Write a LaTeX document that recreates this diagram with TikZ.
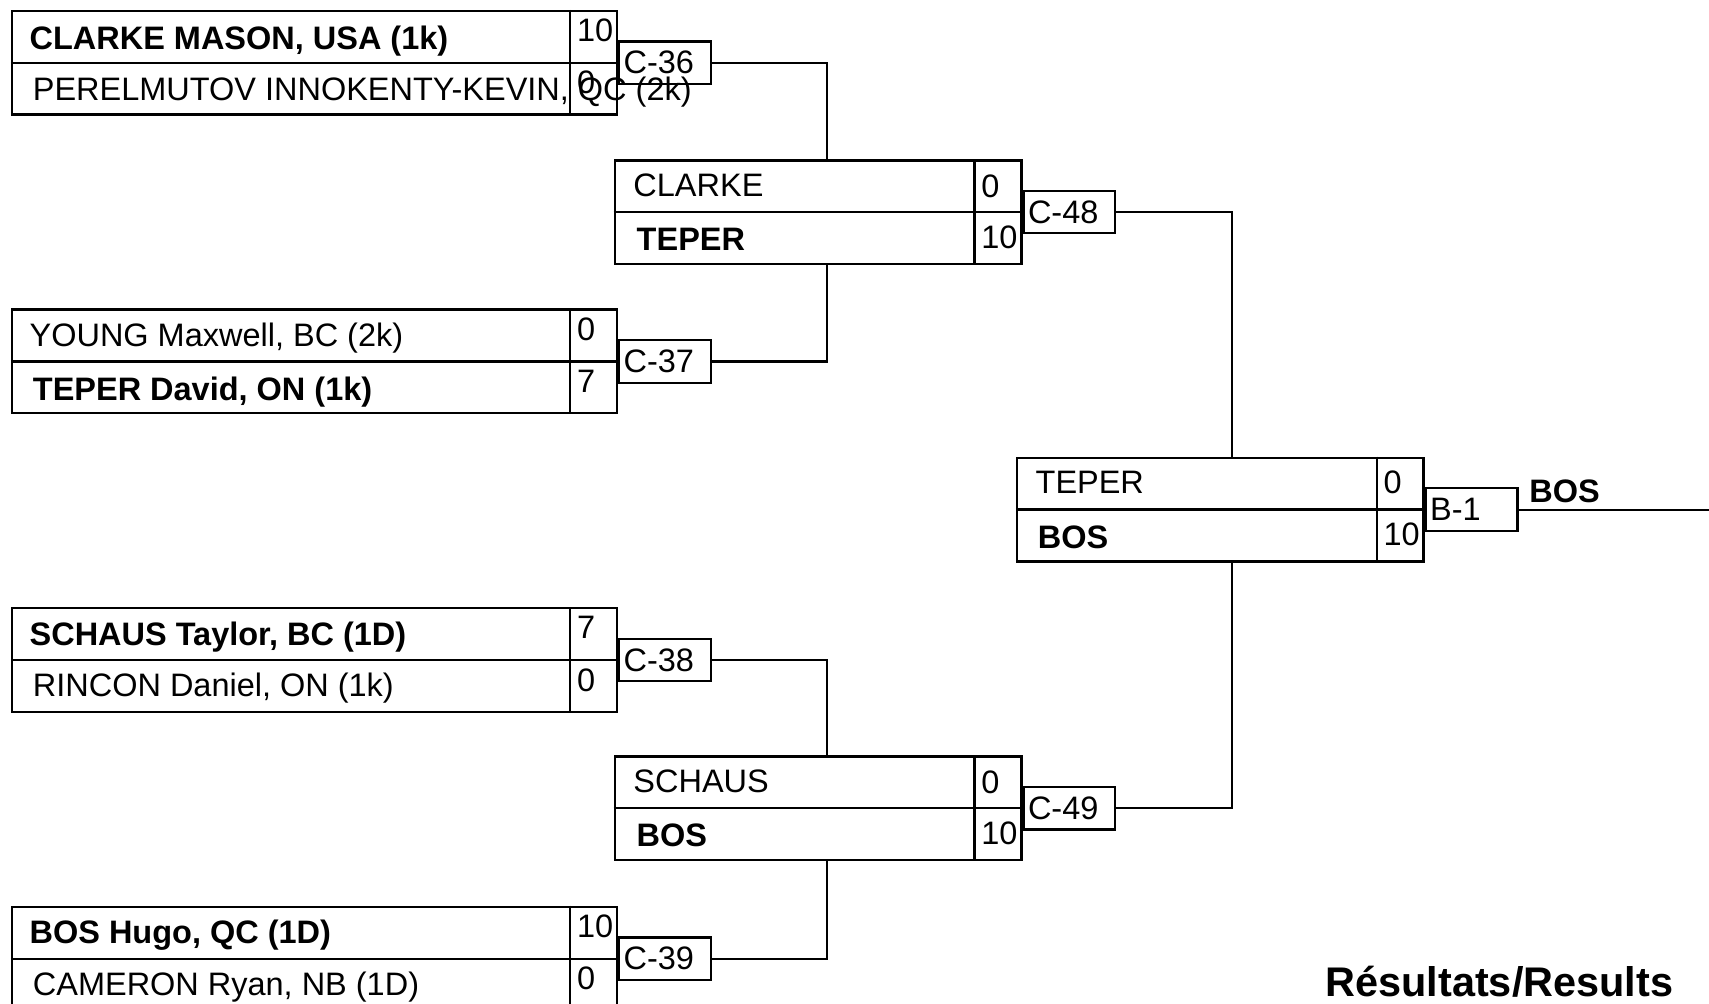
\documentclass[tikz,border=0pt]{standalone}
\usepackage{fontspec}
\setmainfont{Liberation Sans}
\usetikzlibrary{positioning}
\newcommand{\nmfont}{\fontsize{29.8}{34}\selectfont}
\newcommand{\resfont}{\fontsize{38}{42}\selectfont\bfseries}

\begin{document}
\begin{tikzpicture}[x=1pt,y=-1pt,
  match/.style={draw, line width=2.2pt, anchor=north west, minimum height=95pt, inner sep=0pt},
  rnda/.style={match, minimum width=555pt},
  rndb/.style={match, minimum width=373pt},
  lbl/.style={draw, line width=2pt, minimum height=39pt, text width=76pt, inner xsep=4pt, inner ysep=0pt, align=left, font=\nmfont},
  plr/.style={anchor=base west, inner sep=0pt, font=\nmfont},
  winner/.style={plr, font=\nmfont\bfseries},
  scr/.style={plr},
  wire/.style={line width=2pt}]
    \useasboundingbox (0,0) rectangle (1568,921);
    \clip (0,0) rectangle (1568,921);
    % match boxes
    \node[rnda] (m36) at (10,9) {};
    \node[rnda] (m37) at (10,283) {};
    \node[rnda] (m38) at (10,557) {};
    \node[rnda] (m39) at (10,831) {};
    \node[rndb] (m48) at (563,146) {};
    \node[rndb] (m49) at (563,693) {};
    \node[rndb] (mb1) at (932,419) {};
    \foreach \m in {m36,m37,m38,m39,m48,m49,mb1} {
      \draw[line width=2.2pt] (\m.west) -- (\m.east);
      \draw[line width=2.2pt] ([xshift=-44pt]\m.north east) -- ([xshift=-44pt]\m.south east);
    }
    % game labels
    \node[lbl, right=0pt of m36] (c36) {C-36};
    \node[lbl, right=0pt of m37] (c37) {C-37};
    \node[lbl, right=0pt of m38] (c38) {C-38};
    \node[lbl, right=0pt of m39] (c39) {C-39};
    \node[lbl, right=0pt of m48] (c48) {C-48};
    \node[lbl, right=0pt of m49] (c49) {C-49};
    \node[lbl, right=0pt of mb1] (b1) {B-1};
    % players and scores
    \node[winner] (p36a) at ([shift={(17,36)}]m36.north west) {CLARKE MASON, USA (1k)};
    \node[plr] (p36b) at ([shift={(20,83)}]m36.north west) {PERELMUTOV INNOKENTY-KEVIN, QC (2k)};
    \node[scr] (s36a) at ([shift={(-38,29)}]m36.north east) {10};
    \node[scr] (s36b) at ([shift={(-38,76.5)}]m36.north east) {0};
    \node[plr] (p37a) at ([shift={(17,35)}]m37.north west) {YOUNG Maxwell, BC (2k)};
    \node[winner] (p37b) at ([shift={(20,84)}]m37.north west) {TEPER David, ON (1k)};
    \node[scr] (s37a) at ([shift={(-38,29)}]m37.north east) {0};
    \node[scr] (s37b) at ([shift={(-38,77)}]m37.north east) {7};
    \node[winner] (p38a) at ([shift={(17,35)}]m38.north west) {SCHAUS Taylor, BC (1D)};
    \node[plr] (p38b) at ([shift={(20,82)}]m38.north west) {RINCON Daniel, ON (1k)};
    \node[scr] (s38a) at ([shift={(-38,29)}]m38.north east) {7};
    \node[scr] (s38b) at ([shift={(-38,77)}]m38.north east) {0};
    \node[winner] (p39a) at ([shift={(17,35)}]m39.north west) {BOS Hugo, QC (1D)};
    \node[plr] (p39b) at ([shift={(20,82)}]m39.north west) {CAMERON Ryan, NB (1D)};
    \node[scr] (s39a) at ([shift={(-38,29)}]m39.north east) {10};
    \node[scr] (s39b) at ([shift={(-38,76.5)}]m39.north east) {0};
    \node[plr] (p48a) at ([shift={(18,34)}]m48.north west) {CLARKE};
    \node[winner] (p48b) at ([shift={(21,84)}]m48.north west) {TEPER};
    \node[scr] (s48a) at ([shift={(-38,35)}]m48.north east) {0};
    \node[scr] (s48b) at ([shift={(-38,82)}]m48.north east) {10};
    \node[plr] (p49a) at ([shift={(18,34)}]m49.north west) {SCHAUS};
    \node[winner] (p49b) at ([shift={(21,84)}]m49.north west) {BOS};
    \node[scr] (s49a) at ([shift={(-38,35)}]m49.north east) {0};
    \node[scr] (s49b) at ([shift={(-38,82)}]m49.north east) {10};
    \node[plr] (pb1a) at ([shift={(18,34)}]mb1.north west) {TEPER};
    \node[winner] (pb1b) at ([shift={(20,84)}]mb1.north west) {BOS};
    \node[scr] (sb1a) at ([shift={(-38,34)}]mb1.north east) {0};
    \node[scr] (sb1b) at ([shift={(-38,81.5)}]mb1.north east) {10};
    % connectors
    \coordinate (j48) at (759,0);
    \coordinate (j49) at (759,0);
    \coordinate (jb1) at (1130,0);
    \coordinate (out) at (1568,0);
    \draw[wire] (c36.east) -| (j48 |- m48.north);
    \draw[wire] (m48.south -| j48) |- (c37.east);
    \draw[wire] (c38.east) -| (j49 |- m49.north);
    \draw[wire] (m49.south -| j49) |- (c39.east);
    \draw[wire] (c48.east) -| (jb1 |- mb1.north);
    \draw[wire] (mb1.south -| jb1) |- (c49.east);
    \draw[wire] (b1.east) -- (b1.east -| out);
    \node[winner] (champ) at (1403,461) {BOS};
    \node[plr, font=\resfont] (res) at (1216,914) {Résultats/Results};
\end{tikzpicture}
\end{document}
